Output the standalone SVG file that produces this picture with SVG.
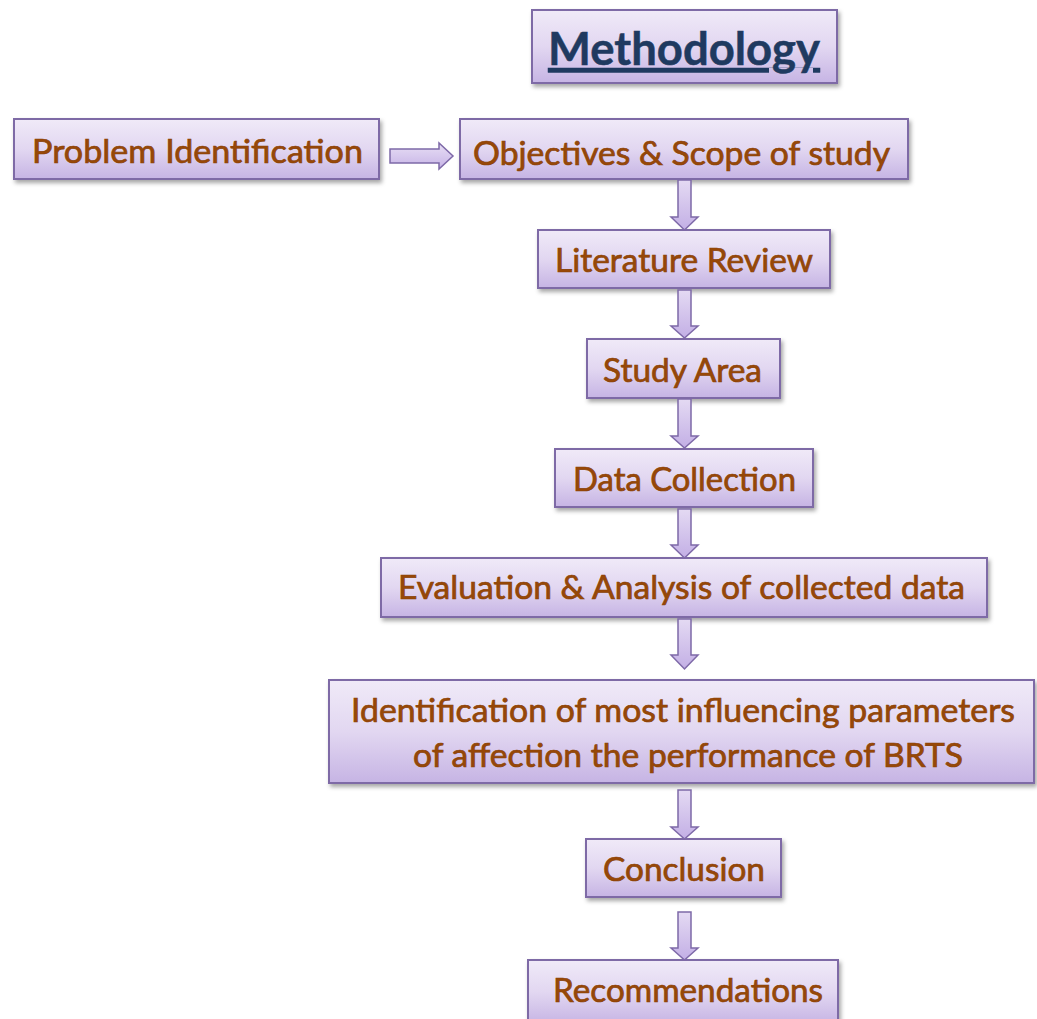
<svg xmlns="http://www.w3.org/2000/svg" width="1037" height="1019" viewBox="0 0 1037 1019">
<defs>
  <linearGradient id="boxFill" x1="0" y1="0" x2="0" y2="1">
    <stop offset="0" stop-color="#F0EAF8"/>
    <stop offset="0.5" stop-color="#E2D7F1"/>
    <stop offset="1" stop-color="#C6B4E4"/>
  </linearGradient>
  <linearGradient id="arrowFill" x1="0" y1="0" x2="0" y2="1">
    <stop offset="0" stop-color="#E4DAF3"/>
    <stop offset="1" stop-color="#C3AFE5"/>
  </linearGradient>
  <linearGradient id="arrowFillH" x1="0" y1="0" x2="0" y2="1">
    <stop offset="0" stop-color="#E8DFF5"/>
    <stop offset="1" stop-color="#C6B3E6"/>
  </linearGradient>
  <filter id="shadow" x="-5%" y="-10%" width="110%" height="130%">
    <feDropShadow dx="2" dy="3" stdDeviation="2" flood-color="#000000" flood-opacity="0.35"/>
  </filter>
</defs>
<style>
  .box { fill: url(#boxFill); stroke: #7E6AA6; stroke-width: 2; filter: url(#shadow); }
  .lbl { font-family: Lato, "Open Sans", "Liberation Sans", sans-serif; font-size: 33px; fill: #984807; stroke: #8A4208; stroke-width: 0.7; text-anchor: middle; }
  .title { font-family: Lato, "Open Sans", "Liberation Sans", sans-serif; font-size: 45px; font-weight: bold; fill: #1F3A60; stroke: #1F3A60; stroke-width: 0.5; text-anchor: middle; text-decoration: underline; }
  .arrow { fill: url(#arrowFill); stroke: #7E69A8; stroke-width: 1.5; stroke-linejoin: miter; }
  .arrowH { fill: url(#arrowFillH); stroke: #7E69A8; stroke-width: 1.5; }
</style>
<rect width="1037" height="1019" fill="#FFFFFF"/>

<g id="title">
  <rect class="box" x="532" y="10" width="305" height="73"/>
  <text class="title" x="684" y="65" textLength="272" lengthAdjust="spacingAndGlyphs">Methodology</text>
</g>

<g id="problem-identification">
  <rect class="box" x="14" y="119" width="365" height="60"/>
  <text class="lbl" x="197.5" y="163" textLength="331" lengthAdjust="spacingAndGlyphs">Problem Identification</text>
</g>

<g id="objectives">
  <rect class="box" x="460" y="119" width="448" height="60"/>
  <text class="lbl" x="681.5" y="165" textLength="417" lengthAdjust="spacingAndGlyphs">Objectives &amp; Scope of study</text>
</g>

<g id="literature-review">
  <rect class="box" x="538" y="230" width="292" height="58"/>
  <text class="lbl" x="684" y="272" textLength="258" lengthAdjust="spacingAndGlyphs">Literature Review</text>
</g>

<g id="study-area">
  <rect class="box" x="587" y="339" width="193" height="59"/>
  <text class="lbl" x="682.5" y="382" textLength="159" lengthAdjust="spacingAndGlyphs">Study Area</text>
</g>

<g id="data-collection">
  <rect class="box" x="555" y="449" width="258" height="58"/>
  <text class="lbl" x="684.5" y="491" textLength="223" lengthAdjust="spacingAndGlyphs">Data Collection</text>
</g>

<g id="evaluation">
  <rect class="box" x="381" y="558" width="606" height="59"/>
  <text class="lbl" x="681.5" y="599" textLength="567" lengthAdjust="spacingAndGlyphs">Evaluation &amp; Analysis of collected data</text>
</g>

<g id="identification">
  <rect class="box" x="329" y="680" width="705" height="103"/>
  <text class="lbl" x="683" y="722" textLength="664" lengthAdjust="spacingAndGlyphs">Identification of most influencing parameters</text>
  <text class="lbl" x="688" y="767" textLength="550" lengthAdjust="spacingAndGlyphs">of affection the performance of BRTS</text>
</g>

<g id="conclusion">
  <rect class="box" x="586" y="839" width="195" height="58"/>
  <text class="lbl" x="684" y="881" textLength="162" lengthAdjust="spacingAndGlyphs">Conclusion</text>
</g>

<g id="recommendations">
  <rect class="box" x="528" y="960" width="310" height="64"/>
  <text class="lbl" x="688" y="1002" textLength="270" lengthAdjust="spacingAndGlyphs">Recommendations</text>
</g>

<g id="connectors">
  <path class="arrowH" d="M390,149 H439 V143 L453,156 L439,169 V163 H390 Z"/>
  <path class="arrow" d="M678,180 H691 V217 H698 L684.5,230 L671,217 H678 Z"/>
  <path class="arrow" d="M678,290 H691 V326 H698 L684.5,338 L671,326 H678 Z"/>
  <path class="arrow" d="M678,399 H691 V436 H698 L684.5,448 L671,436 H678 Z"/>
  <path class="arrow" d="M678,509 H691 V545 H698 L684.5,558 L671,545 H678 Z"/>
  <path class="arrow" d="M678,619 H691 V655 H698 L684.5,669 L671,655 H678 Z"/>
  <path class="arrow" d="M678,790 H691 V827 H698 L684.5,839 L671,827 H678 Z"/>
  <path class="arrow" d="M678,912 H691 V948 H698 L684.5,960 L671,948 H678 Z"/>
</g>
</svg>
